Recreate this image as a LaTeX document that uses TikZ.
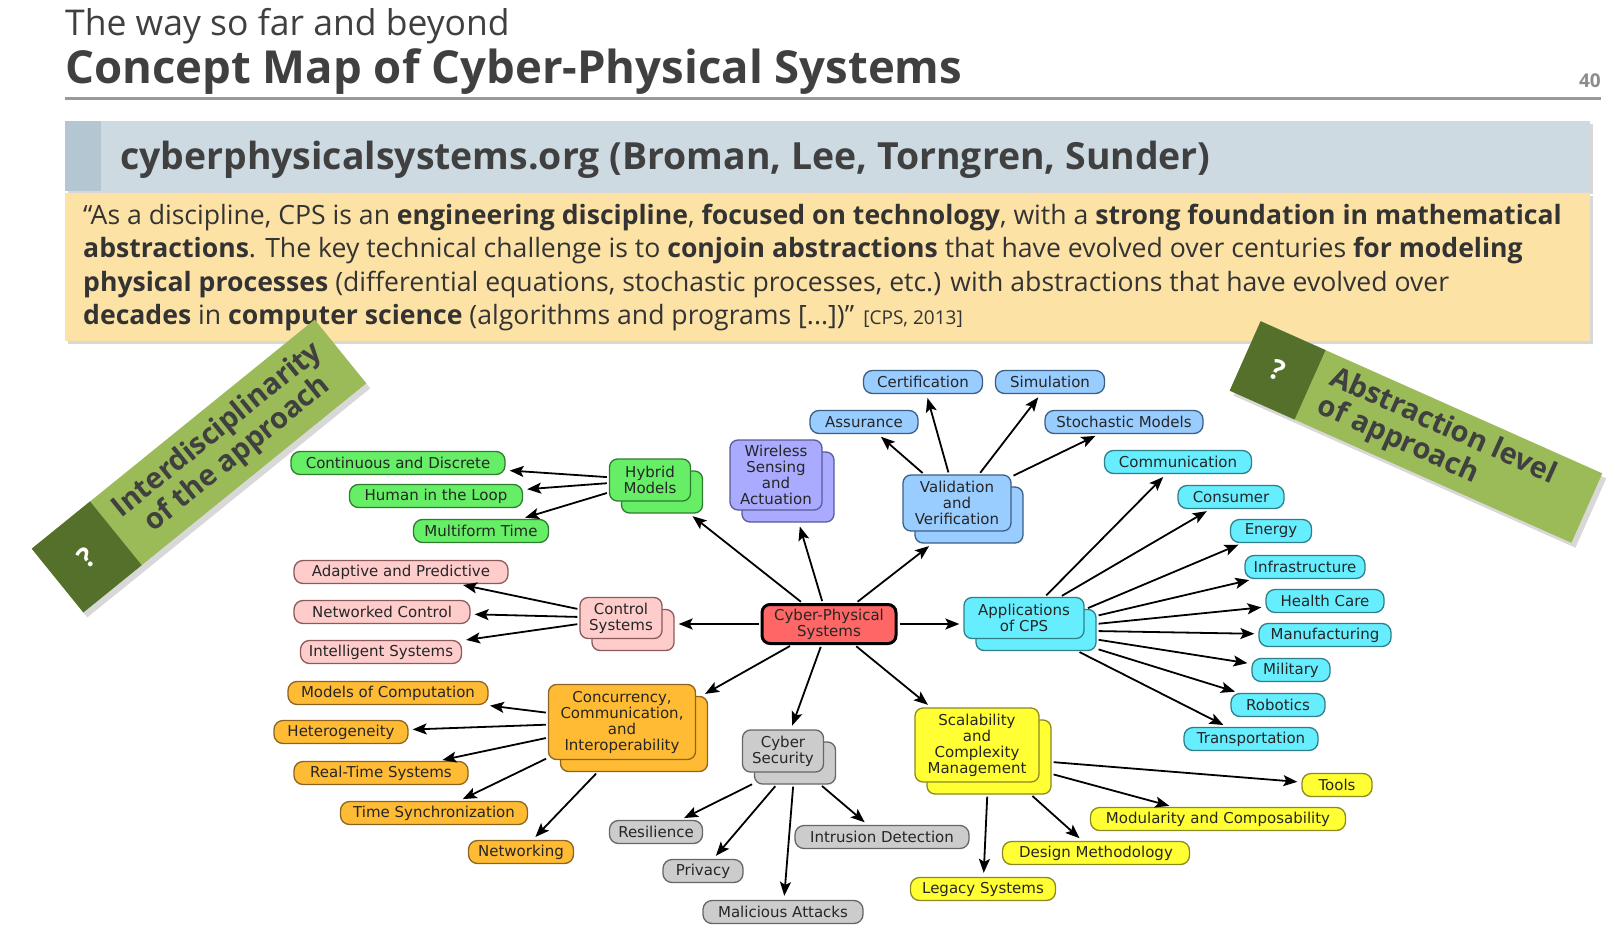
\documentclass[tikz,border=0pt]{standalone}
\usepackage{fontspec}
\setmainfont{Open Sans}
\newfontfamily\cmapfont{DejaVu Sans}
\usetikzlibrary{arrows.meta,shadows}
\definecolor{hdrtxt}{HTML}{404040}
\definecolor{quotetxt}{HTML}{333333}
\definecolor{bannerbg}{HTML}{CDDAE2}
\definecolor{bannerdk}{HTML}{B3C6D1}
\definecolor{quotebg}{HTML}{FDE2A6}
\definecolor{lgreen}{HTML}{9BBB59}
\definecolor{dgreen}{HTML}{55702A}
\definecolor{cG}{HTML}{66EE66}\definecolor{cGd}{HTML}{2E7D2E}
\definecolor{cP}{HTML}{FFCCCC}\definecolor{cPd}{HTML}{8C5A5A}
\definecolor{cR}{HTML}{FF6666}
\definecolor{cV}{HTML}{AAAAFF}\definecolor{cVd}{HTML}{5A5A99}
\definecolor{cB}{HTML}{99CCFF}\definecolor{cBd}{HTML}{3A5F85}
\definecolor{cC}{HTML}{66EEFF}\definecolor{cCd}{HTML}{2E7F8A}
\definecolor{cO}{HTML}{FFBB33}\definecolor{cOd}{HTML}{8A6420}
\definecolor{cY}{HTML}{FFFF33}\definecolor{cYd}{HTML}{8A8A20}
\definecolor{cS}{HTML}{CCCCCC}\definecolor{cSd}{HTML}{666666}
\tikzset{
  box/.style={draw, rounded corners=9pt, line width=1.3pt, inner xsep=3pt, inner ysep=1pt,
    minimum height=23pt, font=\cmapfont\fontsize{15}{16}\selectfont, text=black!85},
  hub/.style={box, rounded corners=8pt, align=center, inner ysep=3pt},
  mw/.style={minimum width=#1pt},
  mh/.style={minimum height=#1pt},
  back/.style={xshift=12pt, yshift=-12pt},
  grn/.style={fill=cG, draw=cGd},
  pnk/.style={fill=cP, draw=cPd},
  red/.style={fill=cR, draw=black, line width=3pt},
  vio/.style={fill=cV, draw=cVd},
  blu/.style={fill=cB, draw=cBd},
  cya/.style={fill=cC, draw=cCd},
  org/.style={fill=cO, draw=cOd},
  yel/.style={fill=cY, draw=cYd},
  gry/.style={fill=cS, draw=cSd},
  arr/.style={draw=black, line width=1.8pt, -{Stealth[length=14pt,width=11pt,inset=3pt]},
    shorten >=4pt, shorten <=2pt},
  shd/.style={drop shadow={opacity=0.3, shadow xshift=3pt, shadow yshift=-3pt}},
}
\begin{document}
\begin{tikzpicture}[x=1pt,y=-1pt]
\useasboundingbox (0,0) rectangle (1622,936);
\fill[white] (0,0) rectangle (1622,936);

% header
\node[anchor=base west, inner sep=0, text=hdrtxt, font=\fontsize{35.5}{35.5}\selectfont] (sub) at (65,36) {The way so far and beyond};
\node[anchor=base west, inner sep=0, text=hdrtxt, font=\fontsize{45.5}{45.5}\selectfont\bfseries] (title) at (65,84) {Concept Map of Cyber-Physical Systems};
\node[anchor=base east, inner sep=0, text=black!45, font=\fontsize{19}{19}\selectfont\bfseries] (pg) at (1601,88) {40};
\draw[line width=3pt, black!40] (65,99) -- (1601,99);

% source banner
\fill[bannerbg, shd] (65,121) rectangle (1590,191);
\fill[bannerdk] (65,121) rectangle (101,191);
\node[anchor=base west, inner sep=0, text=hdrtxt, font=\fontsize{37.4}{37.4}\selectfont\bfseries] (src) at (120,170) {cyberphysicalsystems.org (Broman, Lee, Torngren, Sunder)};

% quote box
\fill[quotebg, shd] (65,193) rectangle (1590,341);
\begin{scope}[every node/.style={anchor=base west, inner sep=0, text=quotetxt, font=\fontsize{26.6}{26.6}\selectfont}]
\node (q1) at (83,225) {“As a discipline, CPS is an \textbf{engineering discipline}, \textbf{focused on technology}, with a \textbf{strong foundation in mathematical}};
\node (q2) at (83,258) {\textbf{abstractions}. The key technical challenge is to \textbf{conjoin abstractions} that have evolved over centuries \textbf{for modeling}};
\node (q3) at (83,291) {\textbf{physical processes} (differential equations, stochastic processes, etc.) with abstractions that have evolved over};
\node (q4) at (83,324) {\textbf{decades} in \textbf{computer science} (algorithms and programs [...])” {\fontsize{19}{19}\selectfont [CPS, 2013]}};
\end{scope}

% left banner
\begin{scope}[shift={(199,466)}, rotate=39]
\fill[lgreen, drop shadow={opacity=0.3, shadow xshift=4pt, shadow yshift=-5pt}] (-182,-41) rectangle (182,41);
\fill[dgreen] (-182,-41) rectangle (-107,41);
\node[transform shape, text=white, font=\fontsize{28}{28}\selectfont\bfseries] (qml) at (-145,0) {?};
\node[transform shape, text=hdrtxt, align=center, font=\fontsize{29}{31}\selectfont\bfseries] (interd) at (37,0) {Interdisciplinarity\\of the approach};
\end{scope}

% right banner
\begin{scope}[shift={(1416,432)}, rotate=-24]
\fill[lgreen, drop shadow={opacity=0.3, shadow xshift=4pt, shadow yshift=-5pt}] (-187,-38) rectangle (187,38);
\fill[dgreen] (-187,-38) rectangle (-116,38);
\node[transform shape, text=white, font=\fontsize{28}{28}\selectfont\bfseries] (qmr) at (-151,0) {?};
\node[transform shape, anchor=west, text=hdrtxt, align=left, font=\fontsize{29}{31}\selectfont\bfseries] (abstr) at (-103,0) {Abstraction level\\of approach};
\end{scope}

% ---- hubs (back copies first)
\node[hub, grn, mw=81, mh=42, back] (hyb-b) at (650,480) {};
\node[hub, grn, mw=81, mh=42] (hyb) at (650,480) {Hybrid\\Models};
\node[hub, pnk, mw=82, mh=41, back] (ctl-b) at (621,618) {};
\node[hub, pnk, mw=82, mh=41] (ctl) at (621,618) {Control\\Systems};
\node[hub, vio, mw=92, mh=70, back] (wsa-b) at (776,475) {};
\node[hub, vio, mw=92, mh=70] (wsa) at (776,475) {Wireless\\Sensing\\and\\Actuation};
\node[hub, blu, mw=108, mh=56, back] (vv-b) at (957,503) {};
\node[hub, blu, mw=108, mh=56] (vv) at (957,503) {Validation\\and\\Verification};
\node[hub, cya, mw=120, mh=41, back] (app-b) at (1024,618) {};
\node[hub, cya, mw=120, mh=41] (app) at (1024,618) {Applications\\of CPS};
\node[hub, org, mw=147, mh=75, back] (cci-b) at (622,722) {};
\node[hub, org, mw=147, mh=75] (cci) at (622,722) {Concurrency,\\Communication,\\and\\Interoperability};
\node[hub, gry, mw=81, mh=42, back] (cys-b) at (783,751) {};
\node[hub, gry, mw=81, mh=42] (cys) at (783,751) {Cyber\\Security};
\node[hub, yel, mw=124, mh=74, back] (scm-b) at (977,745) {};
\node[hub, yel, mw=124, mh=74] (scm) at (977,745) {Scalability\\and\\Complexity\\Management};
\node[hub, red, mw=134, mh=39] (cps) at (829,624) {Cyber-Physical\\Systems};

% ---- leaves
\node[box, grn, mw=214] (cad) at (398,463) {Continuous and Discrete};
\node[box, grn, mw=173] (hil) at (436,496) {Human in the Loop};
\node[box, grn, mw=135] (mft) at (481,531) {Multiform Time};

\node[box, pnk, mw=214] (adp) at (401,572) {Adaptive and Predictive};
\node[box, pnk, mw=176] (net) at (382,612) {Networked Control};
\node[box, pnk, mw=161] (ins) at (381,652) {Intelligent Systems};

\node[box, blu, mw=119] (cer) at (923,382) {Certification};
\node[box, blu, mw=109] (sim) at (1050,382) {Simulation};
\node[box, blu, mw=108] (asu) at (864,422) {Assurance};
\node[box, blu, mw=158] (stm) at (1124,422) {Stochastic Models};

\node[box, cya, mw=147] (com) at (1178,462) {Communication};
\node[box, cya, mw=106] (cons) at (1231,497) {Consumer};
\node[box, cya, mw=81] (ene) at (1271,531) {Energy};
\node[box, cya, mw=120] (inf) at (1305,567) {Infrastructure};
\node[box, cya, mw=118] (hc) at (1325,601) {Health Care};
\node[box, cya, mw=132] (man) at (1325,635) {Manufacturing};
\node[box, cya, mw=78] (mil) at (1291,670) {Military};
\node[box, cya, mw=94] (rob) at (1278,705) {Robotics};
\node[box, cya, mw=134] (tra) at (1251,739) {Transportation};

\node[box, org, mw=200] (moc) at (388,693) {Models of Computation};
\node[box, org, mw=134] (het) at (341,732) {Heterogeneity};
\node[box, org, mw=174] (rts) at (381,773) {Real-Time Systems};
\node[box, org, mw=187] (tsy) at (434,813) {Time Synchronization};
\node[box, org, mw=105] (ntw) at (521,852) {Networking};

\node[box, gry, mw=93] (res) at (656,832) {Resilience};
\node[box, gry, mw=80] (pri) at (703,871) {Privacy};
\node[box, gry, mw=160] (mal) at (783,912) {Malicious Attacks};
\node[box, gry, mw=174] (ids) at (882,837) {Intrusion Detection};

\node[box, yel, mw=70] (too) at (1337,785) {Tools};
\node[box, yel, mw=255] (mod) at (1218,819) {Modularity and Composability};
\node[box, yel, mw=187] (dme) at (1096,853) {Design Methodology};
\node[box, yel, mw=145] (leg) at (983,889) {Legacy Systems};

% ---- connectors
\draw[arr] (cps) -- (hyb-b);
\draw[arr] (cps) -- (wsa-b);
\draw[arr] (cps) -- (vv-b);
\draw[arr] (cps.west) -- (cps.west -| ctl-b.east);
\draw[arr] (cps.east) -- (cps.east -| app.west);
\draw[arr] (cps) -- (cci-b);
\draw[arr] (cps) -- (cys);
\draw[arr] (cps) -- (scm);

\foreach \t in {cad,hil,mft} \draw[arr] (hyb) -- (\t);
\foreach \t in {adp,net,ins} \draw[arr] (ctl) -- (\t);
\foreach \t in {asu,cer,sim,stm} \draw[arr] (vv) -- (\t);
\foreach \t in {com,cons} \draw[arr] (app) -- (\t);
\foreach \t in {ene,inf,hc,man,mil,rob,tra} \draw[arr] (app-b) -- (\t);
\foreach \t in {moc,het,rts,tsy} \draw[arr] (cci) -- (\t);
\draw[arr] (cci-b) -- (ntw);
\foreach \t in {res,pri,mal,ids} \draw[arr] (cys-b) -- (\t);
\foreach \t in {too,mod,dme,leg} \draw[arr] (scm-b) -- (\t);
\end{tikzpicture}
\end{document}
